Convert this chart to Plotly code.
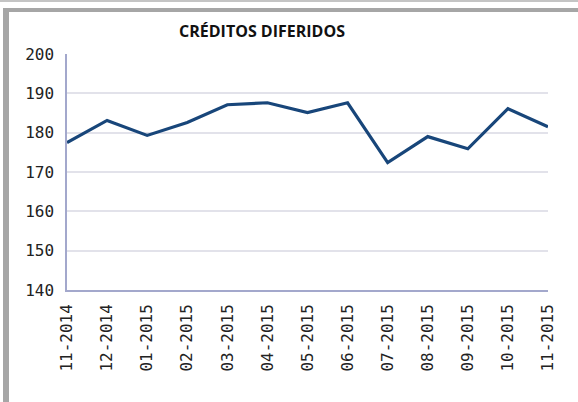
import plotly.graph_objects as go

categories = ["11-2014", "12-2014", "01-2015", "02-2015", "03-2015", "04-2015", "05-2015",
              "06-2015", "07-2015", "08-2015", "09-2015", "10-2015", "11-2015"]
values = [177.5, 183.1, 179.3, 182.6, 187.1, 187.6, 185.1, 187.6, 172.4, 179.0, 175.9, 186.1, 181.5]
y_ticks = [140, 150, 160, 170, 180, 190, 200]
title_text = "CRÉDITOS DIFERIDOS"

W, H = 578, 402
L, R, T, B = 67, 30, 54, 112
pw, ph = W - L - R, H - T - B

def px(x):
    return (x - L) / pw

def py(y):
    return (H - B - y) / ph

fig = go.Figure()
fig.add_trace(go.Scatter(
    x=list(range(len(categories))), y=values, mode="lines",
    line=dict(color="#18467a", width=3.2), hoverinfo="skip", showlegend=False))

shapes = [
    dict(type="rect", xref="paper", yref="paper", x0=px(0), x1=px(W), y0=py(0), y1=py(2),
         fillcolor="#c4c4c4", line=dict(width=0), layer="above"),
    dict(type="rect", xref="paper", yref="paper", x0=px(3), x1=px(W), y0=py(8), y1=py(12),
         fillcolor="#a6a6a6", line=dict(width=0), layer="above"),
    dict(type="rect", xref="paper", yref="paper", x0=px(3), x1=px(9), y0=py(8), y1=py(H),
         fillcolor="#a6a6a6", line=dict(width=0), layer="above"),
]

tick_font = dict(family="'DejaVu Sans Mono', monospace", size=16, color="#222")

fig.update_layout(
    width=W, height=H,
    margin=dict(l=L, r=R, t=T, b=B),
    paper_bgcolor="white", plot_bgcolor="white",
    title=dict(text="<b>" + title_text + "</b>", x=262 / W, xref="container", xanchor="center",
               y=1 - 31 / H, yref="container", yanchor="middle",
               font=dict(family="Open Sans", size=16, color="#111")),
    shapes=shapes,
    xaxis=dict(
        tickmode="array", tickvals=list(range(len(categories))), ticktext=categories,
        range=[0, 12], tickangle=-90, showgrid=False, zeroline=False,
        showline=True, linecolor="#a3a8cc", linewidth=1.5,
        ticks="", ticklabelstandoff=6, tickfont=tick_font),
    yaxis=dict(
        tickmode="array", tickvals=y_ticks, range=[140, 200],
        showgrid=True, gridcolor="#e2e2ea", gridwidth=1.5, zeroline=False,
        showline=True, linecolor="#a3a8cc", linewidth=1.5,
        ticks="", ticklabelstandoff=8, tickfont=tick_font),
)

fig.write_html("out.html", config={"displayModeBar": False},
               post_script="document.body.style.margin='0';document.body.style.overflow='hidden';")
